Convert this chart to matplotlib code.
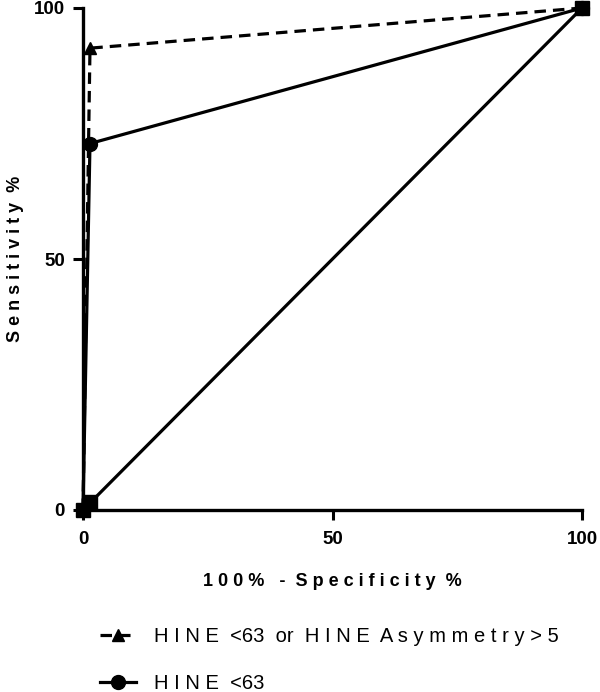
import matplotlib
matplotlib.use('Agg')
import matplotlib.pyplot as plt

plt.rcParams['font.family'] = ['Liberation Sans', 'DejaVu Sans']

# ROC data (100% - specificity, sensitivity)
combo_x = [0, 1.4, 100]
combo_y = [0, 92, 100]
combo_label = 'H I N E  <63  or  H I N E  A s y m m e t r y > 5'

hine_x = [0, 1.4, 100]
hine_y = [0, 73, 100]
hine_label = 'H I N E  <63'

ref_x = [0, 1.5, 100]
ref_y = [0, 1.5, 100]

ticks = [0, 50, 100]

fig = plt.figure(figsize=(6.0, 6.92), dpi=100)
ax = fig.add_axes([83/600, 1 - 510/692, (582-83)/600, (510-8)/692])

lw = 2.3
ax.plot(combo_x, combo_y, color='black', lw=lw, ls=(0, (3.6, 2.2)),
        marker='^', ms=8.5, clip_on=False, zorder=4, label=combo_label)
ax.plot(hine_x, hine_y, color='black', lw=lw, ls='-',
        marker='o', ms=10, clip_on=False, zorder=4, label=hine_label)
ax.plot(ref_x, ref_y, color='black', lw=lw, ls='-',
        marker='s', ms=10, clip_on=False, zorder=3)

ax.set_xlim(0, 100)
ax.set_ylim(0, 100)
ax.set_xticks(ticks)
ax.set_yticks(ticks)
for s in ['top', 'right']:
    ax.spines[s].set_visible(False)
for s in ['left', 'bottom']:
    ax.spines[s].set_linewidth(2.4)
ax.tick_params(direction='out', length=7, width=2.2, labelsize=13.5)
ax.tick_params(axis='x', pad=8)
ax.tick_params(axis='y', pad=6)
for t in ax.get_xticklabels() + ax.get_yticklabels():
    t.set_fontweight('bold')

ax.set_xlabel('1 0 0 %   -  S p e c i f i c i t y  %', fontsize=13,
              fontweight='bold', labelpad=18)
ax.set_ylabel('S e n s i t i v i t y  %', fontsize=13,
              fontweight='bold', labelpad=7)

fig.legend(loc='upper left', bbox_to_anchor=(90/600, 1 - 617/692),
           frameon=False, fontsize=14.5, handlelength=1.8, handletextpad=0.9,
           labelspacing=1.4, borderpad=0)

fig.savefig('out.png', dpi=100)
